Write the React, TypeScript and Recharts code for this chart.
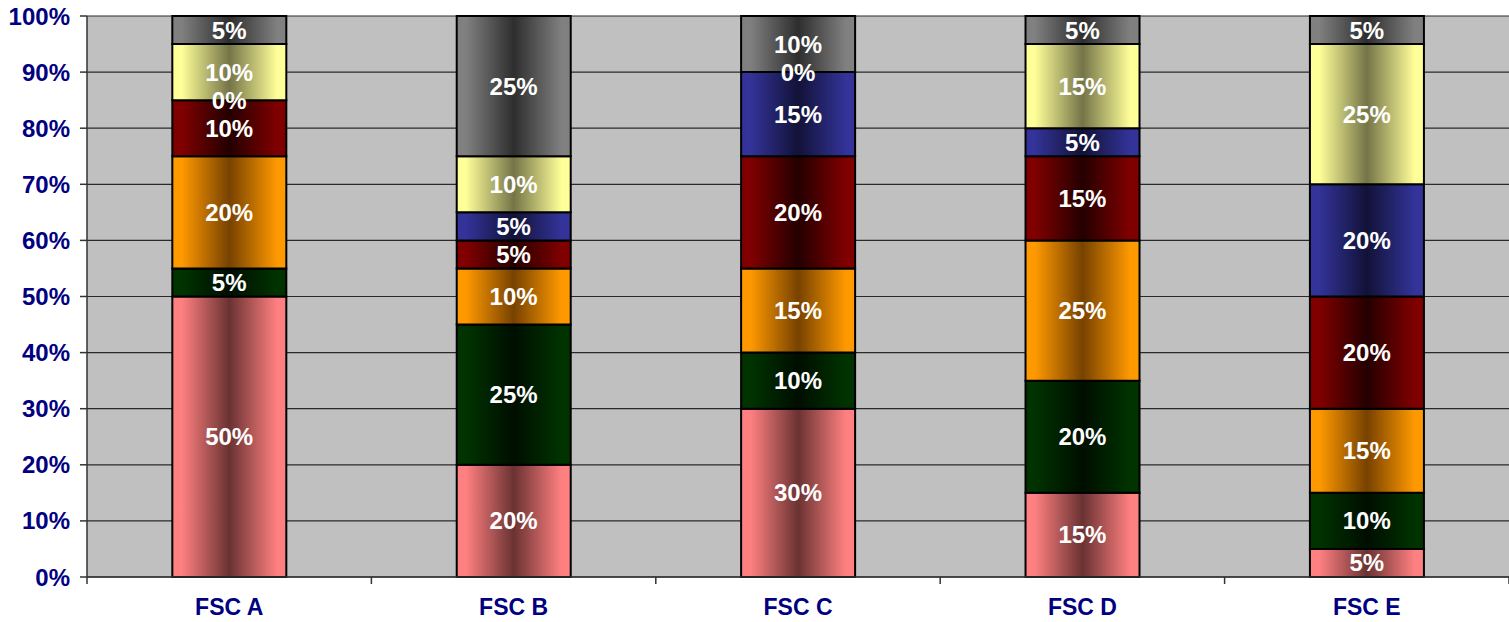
import React from 'react';
import { ComposedChart, Bar, Line, XAxis, YAxis, CartesianGrid, LabelList } from 'recharts';

const categories = ['FSC A', 'FSC B', 'FSC C', 'FSC D', 'FSC E'];
const pinkVals = [50, 20, 30, 15, 5];
const greenVals = [5, 25, 10, 20, 10];
const orangeVals = [20, 10, 15, 25, 15];
const redVals = [10, 5, 20, 15, 20];
const blueVals = [0, 5, 15, 5, 20];
const yellowVals = [10, 10, 0, 15, 25];
const grayVals = [5, 25, 10, 5, 5];
const yTicks = [0, 10, 20, 30, 40, 50, 60, 70, 80, 90, 100];

const series = [
  { key: 's1', vals: pinkVals, light: '#FF8080', dark: '#6A3232' },
  { key: 's2', vals: greenVals, light: '#003300', dark: '#000E00' },
  { key: 's3', vals: orangeVals, light: '#FF9900', dark: '#774200' },
  { key: 's4', vals: redVals, light: '#800000', dark: '#240000' },
  { key: 's5', vals: blueVals, light: '#333399', dark: '#121238' },
  { key: 's6', vals: yellowVals, light: '#FFFF99', dark: '#747448' },
  { key: 's7', vals: grayVals, light: '#808080', dark: '#2E2E2E' },
];

// rows: raw values plus the midpoint of each stacked segment (for label placement)
const data = categories.map((c, i) => {
  const row: Record<string, any> = { name: c };
  let base = 0;
  series.forEach((s) => {
    const v = s.vals[i];
    row[s.key] = v;
    row[`${s.key}_mid`] = base + v / 2;
    base += v;
  });
  return row;
});

const W = 1509;
const H = 622;
const YW = 87;
const XH = 45;
const TOP = 16;
const NAVY = '#000080';
const FONT = '"Liberation Sans", Arial, sans-serif';

const halfBand = (W - YW) / categories.length / 2;

const XTick = (props: any) => {
  const { x, y, payload, index } = props;
  return (
    <g>
      <line x1={x - halfBand} x2={x - halfBand} y1={y} y2={y + 7} stroke="#333" strokeWidth={1.5} />
      {index === categories.length - 1 && (
        <line x1={x + halfBand} x2={x + halfBand} y1={y} y2={y + 7} stroke="#333" strokeWidth={1.5} />
      )}
      <text x={x} y={y + 38} textAnchor="middle" fill={NAVY} fontSize={23} fontWeight="bold" fontFamily={FONT}>
        {payload.value}
      </text>
    </g>
  );
};

const makeLabel = (vals: number[]) => (props: any) => {
  const { x, y, index } = props;
  const v = vals[index];
  if (v === undefined) return null;
  return (
    <text
      key={`l-${index}`}
      x={Number(x)}
      y={Number(y)}
      textAnchor="middle"
      dominantBaseline="central"
      fill="#FFFFFF"
      fontSize={24}
      fontWeight="bold"
      fontFamily={FONT}
    >
      {`${v}%`}
    </text>
  );
};

export default function App() {
  return (
    <div style={{ position: 'absolute', left: 0, top: 0, width: W, height: H, background: '#fff' }}>
      <ComposedChart
        width={W}
        height={H}
        data={data}
        margin={{ top: TOP, right: 0, left: 0, bottom: 0 }}
        barCategoryGap="30%"
      >
        <defs>
          {series.map((s) => (
            <linearGradient key={s.key} id={`g-${s.key}`} x1="0" y1="0" x2="1" y2="0">
              <stop offset="0%" stopColor={s.light} />
              <stop offset="8%" stopColor={s.light} />
              <stop offset="50%" stopColor={s.dark} />
              <stop offset="92%" stopColor={s.light} />
              <stop offset="100%" stopColor={s.light} />
            </linearGradient>
          ))}
        </defs>
        <CartesianGrid vertical={false} fill="#C0C0C0" stroke="#2a2a2a" strokeWidth={1.2} />
        <XAxis
          dataKey="name"
          height={XH}
          tick={<XTick />}
          tickLine={false}
          tickSize={0}
          tickMargin={0}
          axisLine={{ stroke: '#333', strokeWidth: 1.5 }}
          interval={0}
        />
        <YAxis
          width={YW}
          domain={[0, 100]}
          ticks={yTicks}
          tickFormatter={(v: number) => `${v}%`}
          tick={{ fill: NAVY, fontSize: 24, fontWeight: 'bold', fontFamily: FONT }}
          tickSize={7}
          tickMargin={10}
          tickLine={{ stroke: '#333', strokeWidth: 1.5 }}
          axisLine={{ stroke: '#333', strokeWidth: 1.5 }}
          interval={0}
        />
        {series.map((s) => (
          <Bar
            key={s.key}
            dataKey={s.key}
            stackId="a"
            fill={`url(#g-${s.key})`}
            stroke="#000"
            strokeWidth={2}
            isAnimationActive={false}
          />
        ))}
        {series.map((s) => (
          <Line
            key={`${s.key}_mid`}
            dataKey={`${s.key}_mid`}
            stroke="none"
            dot={false}
            activeDot={false}
            legendType="none"
            isAnimationActive={false}
          >
            <LabelList dataKey={`${s.key}_mid`} content={makeLabel(s.vals)} />
          </Line>
        ))}
      </ComposedChart>
    </div>
  );
}
